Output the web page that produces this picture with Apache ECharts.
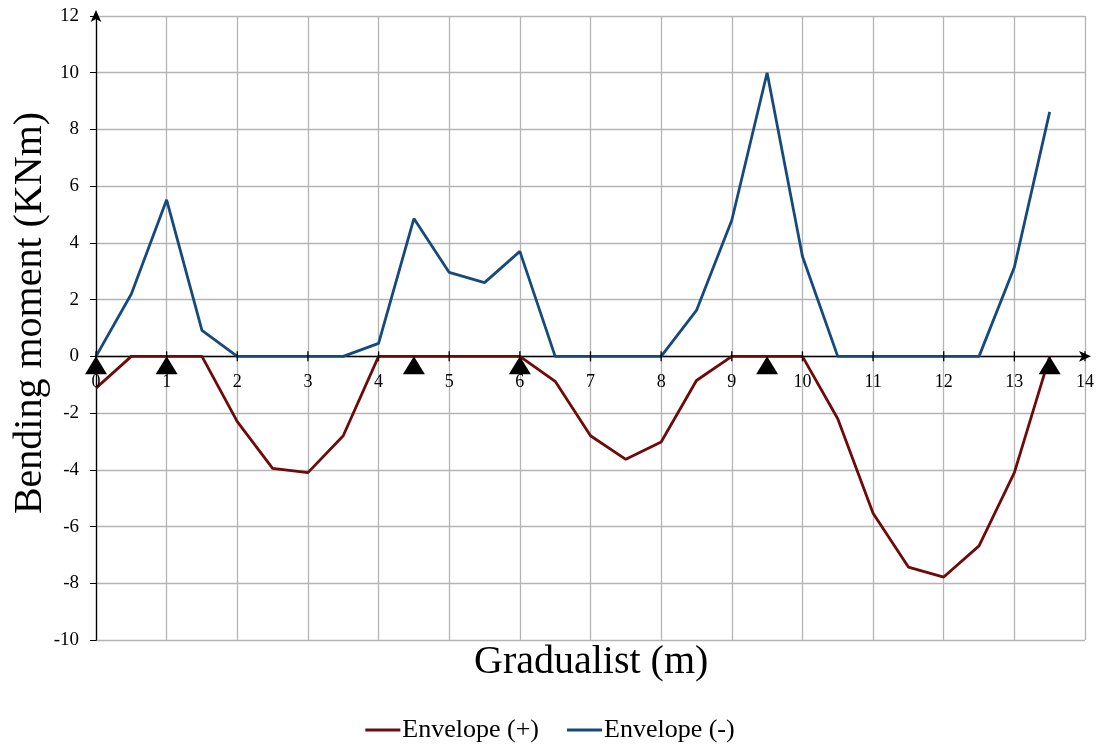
<!DOCTYPE html>
<html>
<head>
<meta charset="utf-8">
<script src="https://cdn.jsdelivr.net/npm/echarts@6/dist/echarts.min.js"></script>
<style>
  html, body { margin: 0; padding: 0; background: #ffffff; }
  #chart { width: 1100px; height: 749px; }
</style>
</head>
<body>
<div id="chart"></div>
<script>
// Positions along the beam (m), sampled every 0.5 m
const positions = [0, 0.5, 1, 1.5, 2, 2.5, 3, 3.5, 4, 4.5, 5, 5.5, 6, 6.5, 7, 7.5, 8, 8.5, 9, 9.5, 10, 10.5, 11, 11.5, 12, 12.5, 13, 13.5];

// Bending moment envelopes (KNm)
const envelopePlus = [-1.12, 0, 0, 0, -2.3, -3.95, -4.1, -2.8, 0, 0, 0, 0, 0, -0.88, -2.8, -3.63, -3.02, -0.85, 0, 0, 0, -2.2, -5.53, -7.43, -7.78, -6.68, -4.1, 0];
const envelopeMinus = [0, 2.2, 5.52, 0.92, 0, 0, 0, 0, 0.46, 4.86, 2.96, 2.6, 3.7, 0, 0, 0, 0, 1.62, 4.8, 10.0, 3.53, 0, 0, 0, 0, 0, 3.14, 8.62];

// Support locations (m)
const supports = [0, 1, 4.5, 6, 9.5, 13.5];

// Tick labels along the beam axis (drawn just under the zero line)
const xTicks = [0, 1, 2, 3, 4, 5, 6, 7, 8, 9, 10, 11, 12, 13, 14];

// Axis ranges
const xRange = { min: 0, max: 14, step: 1 };
const yRange = { min: -10, max: 12, step: 2 };

const serif = '"Liberation Serif", "DejaVu Serif", serif';

const chart = echarts.init(document.getElementById('chart'), null, { renderer: 'canvas' });

chart.setOption({
  backgroundColor: '#ffffff',
  animation: false,
  textStyle: { fontFamily: serif },
  title: {
    text: 'Gradualist (m)',
    left: 474,
    top: 642,
    padding: 0,
    textStyle: { fontFamily: serif, fontSize: 40, fontWeight: 'normal', color: '#000' }
  },
  legend: {
    data: ['Envelope (+)', 'Envelope (-)'],
    bottom: 1,
    left: 'center',
    itemWidth: 35,
    itemHeight: 3,
    itemGap: 28,
    icon: 'rect',
    textStyle: { fontFamily: serif, fontSize: 26, color: '#000', padding: [0, 0, 0, -3] }
  },
  grid: { left: 96, right: 15, top: 16, bottom: 109, containLabel: false, outerBoundsMode: 'none' },
  xAxis: {
    type: 'value',
    min: xRange.min,
    max: xRange.max,
    interval: xRange.step,
    axisLine: {
      onZero: true,
      symbol: ['none', 'arrow'],
      symbolSize: [8, 12],
      symbolOffset: [0, 6],
      lineStyle: { color: '#000', width: 1.3 }
    },
    axisTick: { show: false },
    axisLabel: { show: false },
    splitLine: { show: true, lineStyle: { color: '#b4b4b4', width: 1.3 } }
  },
  yAxis: {
    type: 'value',
    min: yRange.min,
    max: yRange.max,
    interval: yRange.step,
    name: 'Bending moment (KNm)',
    nameLocation: 'middle',
    nameGap: 46,
    nameMoveOverlap: false,
    nameTextStyle: { fontFamily: serif, fontSize: 40, color: '#000', padding: [0, 0, 0, 30] },
    axisLine: {
      onZero: false,
      symbol: ['none', 'arrow'],
      symbolSize: [8, 12],
      symbolOffset: [0, 6],
      lineStyle: { color: '#000', width: 1.3 }
    },
    axisTick: { show: true, length: 6, lineStyle: { color: '#000' } },
    axisLabel: { color: '#000', fontSize: 19, fontFamily: serif, margin: 17 },
    splitLine: { show: true, lineStyle: { color: '#b4b4b4', width: 1.3 } }
  },
  series: [
    {
      name: 'Envelope (+)',
      type: 'line',
      data: positions.map((x, i) => [x, envelopePlus[i]]),
      symbol: 'none',
      itemStyle: { color: '#6e0a0a' },
      lineStyle: { color: '#6e0a0a', width: 2.8 },
      z: 3
    },
    {
      name: 'Envelope (-)',
      type: 'line',
      data: positions.map((x, i) => [x, envelopeMinus[i]]),
      symbol: 'none',
      itemStyle: { color: '#174a7c' },
      lineStyle: { color: '#174a7c', width: 2.8 },
      z: 3
    },
    {
      // short tick marks crossing the zero line, with the position labels below
      name: 'Ticks',
      type: 'scatter',
      data: xTicks.map(x => [x, 0]),
      symbol: 'rect',
      symbolSize: [1.3, 10],
      itemStyle: { color: '#000', opacity: 1 },
      label: {
        show: true,
        position: 'bottom',
        distance: 12,
        formatter: p => String(p.value[0]),
        fontFamily: serif,
        fontSize: 18,
        color: '#000'
      },
      silent: true,
      z: 4
    },
    {
      name: 'Supports',
      type: 'scatter',
      data: supports.map(x => [x, 0]),
      symbol: 'triangle',
      symbolSize: [22, 18],
      symbolOffset: [0, 9],
      itemStyle: { color: '#000', opacity: 1 },
      silent: true,
      z: 5
    }
  ]
});
</script>
</body>
</html>
